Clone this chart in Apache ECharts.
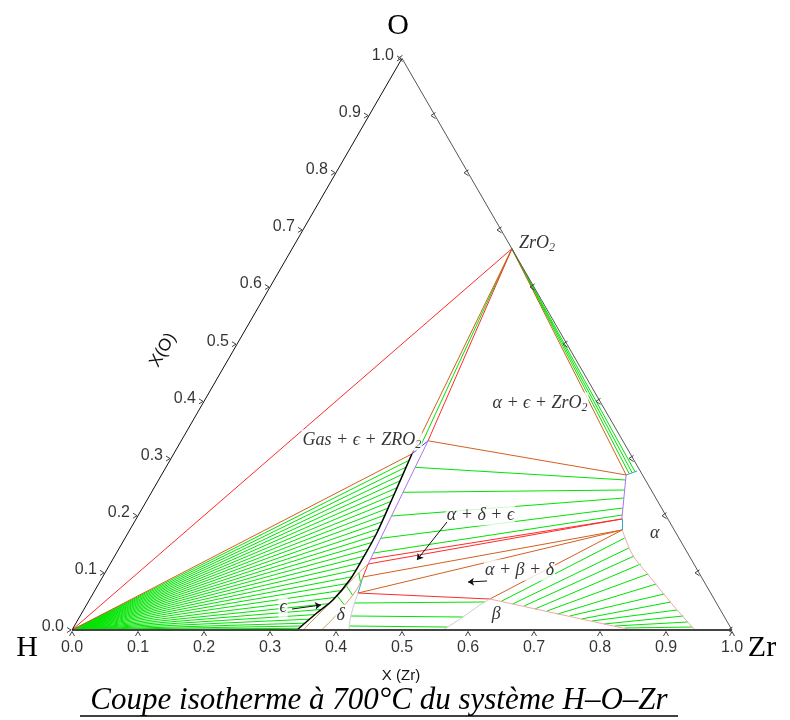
<!DOCTYPE html>
<html><head><meta charset="utf-8">
<script src="https://cdn.jsdelivr.net/npm/echarts@6/dist/echarts.min.js"></script>
<style>html,body{margin:0;padding:0;background:#fff}#c{width:790px;height:720px}</style>
</head><body><div id="c"></div>
<script>
// ---------- data (compositions as [x(Zr), x(O)]) ----------
const tickValues = [0.0,0.1,0.2,0.3,0.4,0.5,0.6,0.7,0.8,0.9,1.0];
const H = [0,0], ZR = [1,0], O = [0,1];
const ZRO2 = [0.333, 0.667];
const G1 = [0.361, 0.308];     // epsilon vertex of Gas+eps+ZrO2
const E0 = [0.374, 0.331];     // epsilon vertex of alpha+eps+ZrO2
const A0 = [0.704, 0.2712];    // alpha vertex of alpha+eps+ZrO2
const A0e = [0.717, 0.278];    // alpha limit at ZrO2 side
const A1 = [0.736, 0.1942];    // alpha vertex of alpha+delta+eps
const A2 = [0.746, 0.175];     // alpha vertex of alpha+beta+delta
const E1 = [0.391, 0.1155];    // epsilon vertex of alpha+delta+eps
const E1b = [0.3903, 0.1242];
const D1 = [0.3945, 0.0927];   // delta vertex of alpha+delta+eps
const D2 = [0.401, 0.0647];    // delta vertex of alpha+beta+delta
const B = [0.606, 0.0542];     // beta vertex
const BZ = [0.848, 0];

const epsCurve = [[0.341,0],[0.356,0.0297],[0.369,0.0525],[0.377,0.0875],[0.378,0.1225],[0.377,0.1697],[0.370,0.2327],[0.361,0.308]];
const alphaCurve = [A2,[0.784,0.131],[0.821,0.0997],[0.863,0.0647],[0.906,0.0297],[0.944,0]];
const alphaEpsLimit = [A0,[0.7149,0.2449],A1];
const betaCurve = [B,[0.596,0.0437],[0.581,0.0227],[0.562,0]];
const deltaCurve = [D2,[0.406,0.0402],[0.4125,0.0175],[0.4197,0]];
const tan1 = [E1,[0.381,0.0904],[0.374,0.0642],[0.363,0.035],[0.3545,0.01225],[0.3505,0]];
const tan2 = [D1,[0.396,0.07],[0.3907,0.0408],[0.3857,0.0205],[0.3783,0]];

// tie-line ends on epsilon curve (Gas + eps region, fan from H)
const gasEpsEnds = [[0.3623,0.297],[0.3637,0.285],[0.3652,0.273],[0.3666,0.261],[0.3681,0.249],[0.3695,0.237],
 [0.3709,0.225],[0.3722,0.213],[0.3735,0.201],[0.3749,0.189],[0.3762,0.177],[0.3771,0.165],[0.3774,0.153],
 [0.3776,0.141],[0.3779,0.129],[0.3778,0.117],[0.3775,0.105],[0.3772,0.093],[0.3755,0.081],[0.3728,0.069],
 [0.3700,0.057],[0.3653,0.046],[0.3596,0.036],[0.3546,0.027],[0.3506,0.019],[0.3471,0.012],[0.3445,0.007],[0.3425,0.003]];
const epsZrO2Ends = [[0.3675,0.3195]];
const alphaZrO2Ends = [[0.708,0.273],[0.7115,0.2748],[0.715,0.2765]];
const alphaEpsTies = [
 [[0.3777,0.2846],[0.7077,0.2624]],
 [[0.3811,0.2409],[0.7149,0.2449]],
 [[0.3844,0.1994],[0.7207,0.2309]],
 [[0.3874,0.1604],[0.728,0.2134]],
 [[0.3895,0.1347],[0.733,0.2012]]];
const alphaBetaTies = [
 [[0.625,0.0499],[0.757,0.161]],
 [[0.645,0.0455],[0.772,0.1435]],
 [[0.664,0.042],[0.787,0.1295]],
 [[0.683,0.0367],[0.804,0.1155]],
 [[0.703,0.0332],[0.824,0.098]],
 [[0.722,0.028],[0.845,0.0805]],
 [[0.742,0.0245],[0.866,0.063]],
 [[0.762,0.0192],[0.883,0.049]],
 [[0.780,0.0157],[0.899,0.035]],
 [[0.801,0.0105],[0.914,0.0245]],
 [[0.819,0.007],[0.926,0.014]],
 [[0.836,0.0035],[0.937,0.0052]]];
const deltaBetaTies = [
 [[0.405,0.0472],[0.601,0.049]],
 [[0.4107,0.0245],[0.581,0.0227]],
 [[0.4168,0.007],[0.5663,0.0052]]];
const epsDeltaTies = [
 [[0.3847,0.0997],[0.395,0.084]],
 [[0.3774,0.077],[0.3944,0.0612]],
 [[0.3722,0.0595],[0.391,0.0437]]];

const redPairs = [[H,ZRO2],[E0,ZRO2],[E1b,A1],[E1,A1],[D2,B],[E1,D1]];
const orangePairs = [[H,G1],[G1,ZRO2],[A0,ZRO2],[E0,A0],[D1,A2],[D2,A2],[B,A2]];
const bluePairs = [[G1,E0]];
const cyanPairs = [[A0,A0e],[A1,A2],[D1,D2]];
const purplePairs = [[E0,E1]];

const phasePos = [[0.366,0.677],[0.5105,0.397],[0.273,0.3324],[0.5183,0.2012],[0.6255,0.105],[0.798,0.1697],[0.629,0.0275],[0.394,0.0262],[0.2996,0.0402]];
const phaseText = ['{i|ZrO}{s|2}','{i|α + ϵ + ZrO}{s|2}','{i|Gas + ϵ + ZRO}{s|2}','{i|α + δ + ϵ}','{i|α + β + δ}','{i|α}','{i|β}','{i|δ}','{i|ϵ}'];
const arrows = [
 [[0.315,0.0367],[0.3554,0.0437]],
 [[0.4737,0.189],[0.4615,0.1225]],
 [[0.586,0.0857],[0.558,0.084]]];

// ---------- helpers ----------
const S3 = Math.sqrt(3)/2;
const T = p => [p[0] + p[1]/2, p[1]*S3];
const GREEN = '#00e400', RED = '#ff2a2a', ORANGE = '#d4601e', BLUE = '#3040ff',
      CYAN = '#30a8c8', PURPLE = '#b070f0', PINK = '#f0a8a8', GREY = '#cccccc', TAN = '#c8a458';
const segs = pairs => pairs.map(pq => ({coords:[T(pq[0]), T(pq[1])]}));
const linesS = (pairs, color, width, z) => ({type:'lines', coordinateSystem:'cartesian2d', silent:true, clip:false,
  z: z||2, lineStyle:{color:color, width:width||1, opacity:1, curveness:0}, data: segs(pairs)});
const curve = (pts, color, width, smooth, z) => ({type:'line', data: pts.map(T), symbol:'none', showSymbol:false,
  smooth: smooth||false, clip:false, silent:true, z: z||3, lineStyle:{color:color, width:width||1}});
const fan = (origin, ends) => ends.map(e => [origin, e]);

const tickSeries = (toPoint, shape) => ({type:'custom', coordinateSystem:'cartesian2d', silent:true, z:6, clip:false,
  data: tickValues.map(v => [v]),
  renderItem: (params, api) => {
    const p = api.coord(T(toPoint(api.value(0))));
    return {type:'polyline', shape:{points: shape.map(d => [p[0]+d[0], p[1]+d[1]])},
            style:{stroke:'#444', fill:null, lineWidth:1}};
  }});

const labelFont = "'Liberation Sans', Arial, sans-serif";
const serif = "'Liberation Serif', 'DejaVu Serif', serif";

const chart = echarts.init(document.getElementById('c'), null, {renderer:'canvas'});
const option = {
  animation:false,
  backgroundColor:'#fff',
  grid:{left:72, top:58.4, width:660, height:571.6},
  xAxis:{type:'value', min:0, max:1, show:false},
  yAxis:{type:'value', min:0, max:S3, show:false},
  series:[
    linesS(fan(H, gasEpsEnds), GREEN),
    linesS(fan(ZRO2, epsZrO2Ends), GREEN),
    linesS(fan(ZRO2, alphaZrO2Ends), GREEN),
    linesS(alphaEpsTies, GREEN),
    linesS(alphaBetaTies, GREEN),
    linesS(deltaBetaTies, GREEN),
    linesS(epsDeltaTies, GREEN),
    linesS(redPairs, RED, 1, 3),
    linesS(orangePairs, ORANGE, 1, 3),
    linesS(bluePairs, BLUE, 1, 3),
    linesS(cyanPairs, CYAN, 1, 3),
    linesS(purplePairs, PURPLE, 1, 3),
    curve(alphaEpsLimit, PURPLE, 1, false),
    curve(alphaCurve, PINK, 1, 0.3),
    curve([B, BZ], PINK, 1, false),
    curve(betaCurve, GREY, 1, 0.3),
    curve(deltaCurve, GREY, 1, 0.3),
    curve(tan1, TAN, 1, 0.3),
    curve(tan2, TAN, 1, 0.3),
    curve(epsCurve, '#000', 1.5, 0.3, 4),
    curve([H, ZR], '#444', 2, false, 5),
    curve([H, O], '#111', 1, false, 5),
    curve([ZR, O], '#555', 1, false, 5),
    tickSeries(v => [v, 0], [[-2.5,6],[0,1.5],[2.5,6]]),
    tickSeries(v => [0, v], [[-5,-2.5],[-1,0],[-5,2.5]]),
    tickSeries(v => [1 - v, v], [[0.5,-3],[-4,0],[0.5,3]]),
    {type:'scatter', symbolSize:0, silent:true, z:7,
     data: tickValues.map(v => ({value:T([v,0]), name:v.toFixed(1)})),
     label:{show:true, position:'bottom', distance:10, formatter:'{b}', color:'#000', fontSize:16, fontFamily:labelFont}},
    {type:'scatter', symbolSize:0, silent:true, z:7,
     data: tickValues.map(v => ({value:T([0,v]), name:v.toFixed(1)})),
     label:{show:true, position:'left', distance:8, offset:[0,-3], formatter:'{b}', color:'#000', fontSize:16, fontFamily:labelFont}},
    {type:'scatter', symbolSize:0, silent:true, z:8,
     data: phasePos.map((p,i) => ({value:T(p), name:phaseText[i]})),
     label:{show:true, position:'inside', formatter:'{b}', backgroundColor:'#fff', padding:[0,1],
       rich:{
         i:{fontFamily:serif, fontStyle:'italic', fontSize:18, color:'#000', lineHeight:21},
         s:{fontFamily:serif, fontStyle:'italic', fontSize:12, color:'#000', lineHeight:12, verticalAlign:'bottom'}
       }}},
    {type:'lines', coordinateSystem:'cartesian2d', silent:true, z:9, clip:false,
     symbol:['none','arrow'], symbolSize:[0,6],
     lineStyle:{color:'#111', width:1, opacity:1}, data: segs(arrows)}
  ],
  graphic:[
    {type:'text', x:398, y:26, style:{text:'O', fontSize:30, fontFamily:serif, fill:'#000', textAlign:'center', textVerticalAlign:'middle', align:'center', verticalAlign:'middle'}},
    {type:'text', x:27, y:648, style:{text:'H', fontSize:30, fontFamily:serif, fill:'#000', textAlign:'center', textVerticalAlign:'middle', align:'center', verticalAlign:'middle'}},
    {type:'text', x:762, y:648, style:{text:'Zr', fontSize:30, fontFamily:serif, fill:'#000', textAlign:'center', textVerticalAlign:'middle', align:'center', verticalAlign:'middle'}},
    {type:'text', x:401, y:676, style:{text:'X (Zr)', fontSize:15, fontFamily:labelFont, fill:'#111', textAlign:'center', textVerticalAlign:'middle', align:'center', verticalAlign:'middle'}},
    {type:'text', x:163, y:350, rotation:Math.PI/3, style:{text:'X(O)', fontSize:17, fontFamily:labelFont, fill:'#111', textAlign:'center', textVerticalAlign:'middle', align:'center', verticalAlign:'middle'}},
    {type:'text', x:379, y:701, style:{text:'Coupe isotherme à 700°C du système H–O–Zr', fontSize:31, fontStyle:'italic', fontFamily:serif, fill:'#000', textAlign:'center', textVerticalAlign:'middle', align:'center', verticalAlign:'middle'}},
    {type:'line', shape:{x1:80, y1:716, x2:678, y2:716}, style:{stroke:'#000', lineWidth:1.5}}
  ]
};
chart.setOption(option);
</script>
</body></html>
